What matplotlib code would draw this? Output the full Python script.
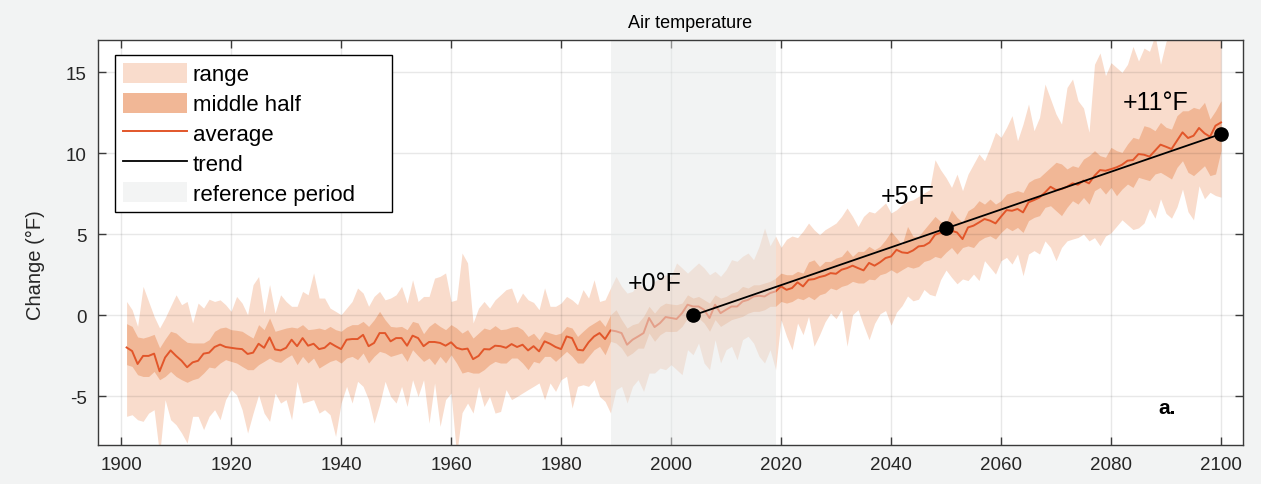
import numpy as np
import matplotlib
matplotlib.use("Agg")
import matplotlib.pyplot as plt
from matplotlib.patches import Patch, Rectangle
from matplotlib.lines import Line2D

plt.rcParams['font.family'] = ['Liberation Sans', 'DejaVu Sans']
plt.rcParams['axes.unicode_minus'] = False

# ---- data -------------------------------------------------------------
years = list(range(1901, 2101))

average = [
    -1.98, -2.2, -3.0, -2.5, -2.5, -2.36, -3.45, -2.6, -2.16, -2.5, -2.8, -3.2, -2.9, -2.8, -2.36, -2.3, -1.95, -1.8, -1.95, -2.0, -2.05, -2.08, -2.38, -2.3, -1.75,
    -2.0, -1.36, -2.1, -2.16, -2.0, -1.5, -1.9, -1.4, -1.87, -1.75, -2.08, -2.0, -1.7, -1.9, -2.08, -1.5, -1.46, -1.46, -1.2, -1.9, -1.7, -1.09, -1.09, -1.6, -1.4,
    -1.4, -1.87, -1.25, -1.4, -1.9, -1.64, -1.64, -1.7, -1.87, -1.66, -2.0, -2.1, -2.05, -2.7, -2.5, -2.08, -2.1, -1.87, -1.9, -2.0, -1.77, -1.95, -1.81, -2.16, -1.9,
    -2.22, -1.6, -1.75, -1.95, -2.08, -1.3, -1.4, -2.12, -2.16, -1.66, -1.3, -1.09, -1.46, -0.92, -0.98, -1.09, -1.81, -1.5, -1.3, -1.09, -0.16, -0.72, -0.47, -0.1, -0.16,
    -0.22, 0.14, 0.66, 0.55, 0.55, 0.35, -0.16, 0.66, 0.14, 0.35, 0.55, 0.55, 0.86, 0.96, 1.17, 1.21, 1.17, 1.38, 1.48, 1.79, 1.58, 1.69, 2.04, 1.79, 2.2,
    2.24, 2.37, 2.45, 2.61, 2.57, 2.82, 2.92, 3.07, 2.92, 2.78, 3.24, 3.07, 3.28, 3.54, 3.64, 4.05, 3.89, 3.85, 4.01, 4.26, 4.3, 4.5, 4.98, 5.1, 5.0,
    5.23, 5.12, 4.71, 5.43, 5.54, 5.74, 5.95, 5.85, 5.68, 6.1, 6.5, 6.46, 6.57, 6.36, 6.98, 7.12, 7.28, 7.59, 7.94, 7.74, 7.8, 7.94, 8.15, 8.07, 8.32,
    8.15, 8.62, 8.97, 8.93, 9.03, 9.14, 9.3, 9.55, 9.59, 9.96, 9.92, 9.8, 10.17, 10.54, 10.41, 10.27, 10.79, 11.3, 10.95, 11.09, 11.57, 11.24, 11.03, 11.71, 11.91,
]

upper_quartile = [
    -0.51, -0.68, -1.33, -1.4, -1.3, -1.17, -2.0, -1.46, -0.98, -1.09, -1.4, -1.66, -1.7, -1.7, -1.7, -1.5, -0.98, -0.78, -0.72, -0.88, -0.92, -0.98, -1.2, -1.4, -0.57,
    -0.88, -0.16, -0.98, -0.88, -0.78, -0.72, -0.78, -0.57, -0.88, -0.84, -0.78, -0.88, -0.68, -0.88, -0.98, -0.72, -0.57, -0.57, -0.37, -0.68, -0.27, 0.25, -0.27, -0.68, -0.72,
    -0.68, -0.88, -0.37, -0.47, -1.13, -0.68, -0.43, -0.68, -0.88, -0.57, -0.78, -1.09, -0.88, -1.4, -1.09, -0.78, -0.88, -0.63, -0.88, -0.84, -0.72, -0.68, -0.88, -1.3, -1.1,
    -1.5, -0.98, -1.09, -1.19, -1.09, -0.68, -0.78, -1.3, -0.98, -0.68, -0.47, -0.26, -0.68, 0.04, 0.35, -0.26, -0.78, -0.57, -0.47, -0.06, 0.56, 0.14, 0.56, 0.76, 0.7,
    0.66, 0.76, 1.27, 1.07, 1.17, 0.97, 0.76, 1.27, 1.07, 1.17, 1.38, 1.48, 1.79, 1.69, 1.89, 1.89, 2.0, 2.1, 2.3, 2.61, 2.51, 2.51, 2.72, 2.61, 3.3,
    3.43, 3.02, 3.33, 3.33, 3.54, 3.64, 4.05, 3.64, 3.95, 3.95, 4.26, 4.05, 4.26, 4.67, 5.18, 4.77, 4.36, 5.49, 4.88, 4.88, 5.29, 5.7, 6.11, 5.8, 5.7,
    6.5, 6.05, 5.74, 6.46, 6.67, 7.08, 6.87, 7.18, 6.87, 7.08, 7.49, 7.59, 7.7, 7.59, 8.21, 8.42, 8.52, 8.83, 9.14, 9.45, 9.35, 9.04, 9.24, 9.14, 9.65,
    9.86, 10.17, 9.86, 9.76, 10.37, 10.17, 10.06, 10.58, 10.99, 10.89, 11.71, 11.61, 11.4, 11.91, 11.61, 11.5, 12.33, 12.63, 12.63, 12.84, 12.74, 13.15, 12.12, 12.63, 13.25,
]

lower_quartile = [
    -3.04, -3.15, -3.66, -3.77, -3.77, -3.46, -3.97, -3.77, -3.46, -3.77, -3.97, -4.13, -3.97, -3.87, -3.56, -3.19, -3.25, -2.94, -2.73, -2.84, -2.94, -3.15, -3.35, -3.35, -3.04,
    -2.84, -2.63, -2.84, -2.9, -2.63, -2.43, -3.04, -2.53, -2.94, -2.63, -3.25, -3.04, -2.84, -2.73, -2.94, -2.63, -2.53, -2.73, -2.32, -2.94, -2.53, -2.22, -2.32, -2.53, -2.43,
    -2.32, -2.84, -2.12, -2.49, -2.84, -2.63, -3.04, -2.53, -2.94, -2.43, -2.94, -3.56, -3.46, -3.56, -3.56, -3.35, -3.04, -2.84, -2.94, -2.94, -2.63, -2.63, -2.94, -3.35, -2.84,
    -2.94, -2.53, -2.53, -2.84, -2.53, -2.22, -2.53, -2.94, -2.94, -2.53, -2.12, -1.91, -2.43, -1.6, -1.71, -2.02, -2.53, -2.32, -2.02, -2.02, -1.09, -1.6, -1.19, -0.98, -1.0,
    -0.98, -0.68, -0.16, -0.26, -0.16, -0.47, -0.98, -0.26, -0.68, -0.47, -0.26, -0.16, -0.06, 0.14, 0.25, 0.25, 0.35, 0.56, 0.56, 0.86, 0.76, 0.86, 1.07, 0.97, 1.17,
    0.97, 1.27, 1.38, 1.69, 1.58, 1.79, 1.89, 2.1, 2.0, 2.0, 2.24, 2.2, 2.51, 2.61, 2.82, 2.61, 2.82, 3.02, 2.92, 3.02, 3.33, 3.43, 3.64, 3.54, 3.9,
    4.19, 3.78, 4.19, 4.29, 4.19, 4.6, 4.81, 4.91, 4.71, 5.12, 5.43, 5.23, 5.43, 5.12, 5.85, 6.05, 6.16, 6.67, 6.77, 6.46, 6.16, 6.67, 7.08, 6.87, 7.28,
    6.87, 7.7, 7.9, 7.49, 7.9, 7.39, 7.8, 8.11, 7.9, 8.52, 8.42, 8.32, 8.73, 8.83, 8.63, 8.42, 9.14, 9.55, 8.83, 8.63, 8.93, 9.24, 8.63, 8.73, 10.17,
]

range_max = [
    0.86, 0.35, -0.68, 1.79, 0.86, -0.06, -0.78, -0.16, 0.56, 1.27, 0.66, 0.86, -0.47, 0.76, 0.45, 1.0, 0.86, 0.96, 0.66, 0.25, 1.17, 0.76, 0.04, 1.9, 2.4,
    0.14, 1.9, 0.14, 1.27, 0.86, 0.56, 0.56, 1.48, 1.27, 2.62, 1.07, 1.07, 0.45, 0.25, 0.04, 0.45, 0.86, 1.69, 1.38, 0.56, 1.17, 1.48, 0.96, 1.07, 1.27,
    1.79, 0.76, 2.2, 0.86, 1.17, 1.17, 2.3, 2.41, 2.62, 0.86, 0.96, 3.85, 3.24, -0.47, 0.45, 0.86, 0.45, 0.96, 1.27, 1.59, 1.69, 0.76, 1.38, 0.96, 0.8,
    0.35, 1.7, 0.56, 0.56, 0.76, 1.17, 0.96, 0.66, 1.59, 1.07, 2.2, 0.86, 0.96, 1.7, 2.41, 1.79, 1.38, 1.48, 2.0, 1.7, 1.59, 2.1, 2.31, 2.51, 2.41,
    3.24, 2.93, 2.61, 2.93, 3.24, 2.93, 2.51, 2.72, 2.41, 2.82, 3.44, 3.34, 3.65, 3.85, 3.44, 4.26, 5.4, 4.3, 4.9, 4.2, 4.7, 4.9, 4.8, 5.2, 5.7,
    5.29, 4.98, 5.29, 5.49, 5.7, 6.11, 6.63, 6.11, 5.49, 6.11, 6.42, 6.32, 6.63, 6.94, 6.32, 6.52, 6.83, 7.04, 7.14, 7.35, 7.55, 7.76, 9.61, 8.99, 8.5,
    7.9, 8.72, 7.7, 8.72, 9.34, 9.96, 9.55, 10.37, 11.3, 10.99, 11.6, 12.33, 10.78, 11.81, 13.05, 11.4, 12.22, 14.28, 13.36, 12.43, 11.81, 14.07, 14.59, 13.25, 12.8,
    11.3, 15.5, 16.2, 14.8, 15.6, 15.3, 15.0, 15.5, 16.6, 15.7, 16.5, 16.3, 17.3, 15.5, 16.9, 17.5, 17.8, 18.0, 18.2, 17.9, 18.4, 18.3, 18.6, 18.5, 18.8,
]

range_min = [
    -6.23, -6.13, -6.44, -6.54, -6.03, -5.82, -8.6, -5.2, -6.44, -6.75, -7.26, -7.88, -6.23, -6.23, -7.05, -6.23, -5.82, -6.44, -5.2, -4.58, -4.9, -5.82, -7.26, -6.03, -4.9,
    -6.03, -6.54, -4.79, -5.41, -5.2, -6.44, -4.07, -5.41, -5.31, -5.2, -6.03, -5.82, -6.13, -7.47, -5.41, -4.38, -5.41, -4.07, -4.38, -5.2, -6.65, -5.51, -4.07, -5.0, -5.41,
    -4.38, -5.62, -3.97, -5.0, -3.97, -6.65, -4.17, -6.85, -5.2, -4.79, -8.6, -6.0, -5.41, -6.03, -4.38, -5.62, -5.0, -6.03, -5.93, -4.58, -5.2, -5.0, -4.79, -4.58, -4.38,
    -4.17, -5.2, -4.17, -4.69, -3.97, -3.76, -5.72, -4.38, -4.28, -4.38, -3.97, -5.0, -5.31, -6.03, -4.59, -4.38, -5.41, -4.38, -3.97, -4.69, -3.56, -3.56, -3.25, -3.35, -3.04,
    -3.35, -3.66, -2.12, -2.43, -1.71, -2.94, -3.35, -1.5, -2.94, -2.12, -1.91, -2.74, -1.5, -1.29, -1.71, -2.53, -2.94, -2.12, -3.35, -0.26, -1.29, -2.12, -0.47, -1.19, -0.06,
    -1.9, -1.2, -0.4, 0.14, -0.2, 0.35, -1.9, 0.04, 0.35, -0.6, -1.5, -0.5, 0.1, 0.3, -0.6, 0.2, 0.6, 1.2, 0.9, 1.0, 1.6, 1.3, 1.2, 2.2, 2.8,
    2.35, 1.95, 2.25, 2.15, 2.55, 2.15, 3.38, 2.97, 2.55, 3.38, 3.58, 3.17, 3.79, 2.45, 3.79, 4.0, 3.79, 4.6, 4.19, 3.38, 4.19, 4.6, 4.71, 4.81, 5.02,
    4.6, 4.8, 4.3, 4.9, 5.1, 5.5, 5.9, 5.6, 5.3, 5.4, 5.7, 6.6, 6.0, 7.2, 6.3, 6.0, 6.7, 7.8, 6.4, 5.9, 8.0, 7.2, 7.6, 7.4, 7.3,
]

# Linear trend through the reference year, mid-century and end of century
trend_years = [2004, 2050, 2100]
trend_values = [0.0, 5.37, 11.2]
trend_label_years = [1997, 2043, 2088.2]

reference_period = (1989, 2019)

x_ticks = list(range(1900, 2101, 20))
y_ticks = [-5, 0, 5, 10, 15]

# ---- style ------------------------------------------------------------
c_range = '#f9dccc'
c_mid = '#f1b796'
c_avg = '#e2562a'
c_ref = '#e6e9e9'
c_bg = '#f2f3f3'
c_axis = '#3a3a3a'
c_text = '#262626'

fig = plt.figure(figsize=(12.61, 4.85), dpi=100, facecolor=c_bg)
ax = fig.add_axes([98 / 1261, 1 - 446 / 485, (1243 - 98) / 1261, (446 - 41) / 485])
ax.set_facecolor('white')

ax.fill_between(years, range_min, range_max, color=c_range, lw=0, zorder=1)
ax.fill_between(years, lower_quartile, upper_quartile, color=c_mid, lw=0, zorder=2)
ax.plot(years, average, color=c_avg, lw=1.4, zorder=3)
ax.axvspan(*reference_period, color=c_ref, alpha=0.5, lw=0, zorder=4)

ax.plot(trend_years, trend_values, color='black', lw=1.3, zorder=5)
ax.plot(trend_years, trend_values, 'o', color='black', ms=9.5, zorder=6)
for lx, tv in zip(trend_label_years, trend_values):
    ax.text(lx, tv + 2.0, f"+{round(tv)}°F", fontsize=18, ha='center',
            va='center', color='black', zorder=7)

ax.text(2090.2, -5.7, 'a.', fontsize=15, fontweight='bold', ha='center',
        va='center', zorder=7)

ax.set_xlim(1895.8, 2104)
ax.set_ylim(-8, 17)
ax.set_xticks(x_ticks)
ax.set_yticks(y_ticks)
ax.grid(True, color='black', alpha=0.09, lw=1.0, zorder=8)
ax.set_axisbelow(False)
ax.tick_params(direction='in', length=6, width=1, colors=c_axis,
               top=True, right=True, labelsize=13.5, labelcolor=c_text, pad=8)
for sp in ax.spines.values():
    sp.set_color(c_axis)
    sp.set_linewidth(1.0)
    sp.set_zorder(9)

ax.set_ylabel('Change (°F)', fontsize=14.5, color=c_text)
ax.yaxis.set_label_coords(-0.046, 0.447)
ax.set_title('Air temperature', fontsize=13, color='black', x=0.517, pad=9)

# legend box
ax.add_patch(Rectangle((0.01485, 0.5753), 0.2419, 0.3877, transform=ax.transAxes,
                       facecolor='white', edgecolor='black', lw=1.0, zorder=9.5))
handles = [
    Patch(facecolor=c_range, edgecolor='none'),
    Patch(facecolor=c_mid, edgecolor='none'),
    Line2D([], [], color=c_avg, lw=1.4),
    Line2D([], [], color='black', lw=1.3),
    Patch(facecolor='#f3f4f4', edgecolor='none'),
]
labels = ['range', 'middle half', 'average', 'trend', 'reference period']
leg = ax.legend(handles, labels, loc='upper left',
                bbox_to_anchor=(0.0149, 0.963), borderaxespad=0,
                fontsize=16, frameon=False, handlelength=2.9, handleheight=1.0,
                handletextpad=0.25, labelspacing=0.33, borderpad=0.35)
leg.set_zorder(10)

fig.savefig('out.png', dpi=100, facecolor=c_bg)
